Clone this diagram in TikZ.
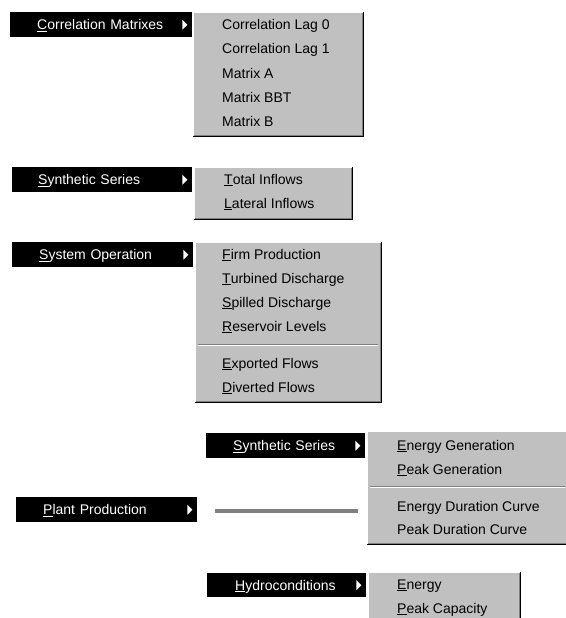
\documentclass[tikz,border=0pt]{standalone}
\usepackage{fontspec}
\setmainfont{Liberation Sans}
\usetikzlibrary{calc}
\definecolor{menugray}{HTML}{C0C0C0}
\definecolor{shadegray}{HTML}{808080}
\newcommand{\acc}[1]{\underline{#1}}
\newcommand{\subarrow}[1]{\fill[white] ($(#1.east)+(-10,-5)$) -- ++(0,10) -- ++(5,-5) -- cycle;}
\newcommand{\bevel}[1]{%
  \draw[white] ([xshift=0.5pt]#1.south west) -- ([xshift=0.5pt,yshift=-0.5pt]#1.north west) -- ([yshift=-0.5pt]#1.north east);
  \draw[shadegray] ([xshift=-2.5pt,yshift=-1pt]#1.north east) -- ([xshift=-2.5pt,yshift=2.5pt]#1.south east) -- ([xshift=1pt,yshift=2.5pt]#1.south west);
  \draw[black,line width=1.5pt] ([xshift=-0.75pt]#1.north east) -- ([xshift=-0.75pt,yshift=0.75pt]#1.south east) -- ([yshift=0.75pt]#1.south west);}

\begin{document}
\begin{tikzpicture}[x=1pt,y=-1pt,font=\fontsize{14pt}{16pt}\selectfont]
\tikzset{menubar/.style = {fill=black, text=white, anchor=north west, inner sep=0pt, minimum height=25pt, text width=#1, align=left, text height=12pt, text depth=2pt}}
\tikzset{menubox/.style = {fill=menugray, anchor=north west, inner sep=0pt}}
\tikzset{item/.style = {anchor=base west, inner sep=0pt}}
\tikzset{grayline/.style = {shadegray, line width=4pt}}
\useasboundingbox (0,0) rectangle (565,618);
% menu bars
\node[menubar=182pt] (corr) at (10,12) {\hspace*{27pt}\acc{C}orrelation Matrixes};
\node[menubar=180pt] (synth) at (12,167) {\hspace*{26pt}\acc{S}ynthetic Series};
\node[menubar=181pt] (sysop) at (12,242) {\hspace*{27pt}\acc{S}ystem Operation};
\node[menubar=159pt] (psynth) at (206,433) {\hspace*{27pt}\acc{S}ynthetic Series};
\node[menubar=181pt] (plant) at (16,497) {\hspace*{27pt}\acc{P}lant Production};
\node[menubar=159pt, minimum height=24pt] (hydro) at (207,573) {\hspace*{28pt}\acc{H}ydroconditions};
\subarrow{corr}
\subarrow{synth}
\subarrow{sysop}
\subarrow{psynth}
\subarrow{plant}
\subarrow{hydro}
% submenus
\node[menubox, minimum width=171pt, minimum height=125pt] (corrbox) at (193,12) {};
\node[menubox, minimum width=159pt, minimum height=53pt] (synthbox) at (194,167) {};
\node[menubox, minimum width=187pt, minimum height=161pt] (sysbox) at (195,242) {};
\node[menubox, minimum width=210pt, minimum height=114pt] (pbox) at (367,431) {};
\node[menubox, minimum width=153pt, minimum height=60pt] (hbox) at (368,572) {};
\bevel{corrbox}
\bevel{synthbox}
\bevel{sysbox}
\bevel{pbox}
\bevel{hbox}
% separators
\draw[shadegray] (198,344) -- (378,344);
\draw[white] (198,345.5) -- (378,345.5);
\draw[shadegray] (370,486) -- (565,486);
\draw[white] (370,487.5) -- (565,487.5);
% items
\node[item] (lag0) at (222,30) {Correlation Lag 0};
\node[item] (lag1) at (222,54) {Correlation Lag 1};
\node[item] (mata) at (222,78) {Matrix A};
\node[item] (matbbt) at (222,102) {Matrix BBT};
\node[item] (matb) at (222,126) {Matrix B};
\node[item] (total) at (224,184) {\acc{T}otal Inflows};
\node[item] (lateral) at (224,208) {\acc{L}ateral Inflows};
\node[item] (firm) at (222,259) {\acc{F}irm Production};
\node[item] (turb) at (222,283) {\acc{T}urbined Discharge};
\node[item] (spill) at (222,307) {\acc{S}pilled Discharge};
\node[item] (res) at (222,331) {\acc{R}eservoir Levels};
\node[item] (export) at (222,368) {\acc{E}xported Flows};
\node[item] (divert) at (222,392) {\acc{D}iverted Flows};
\node[item] (egen) at (397,450) {\acc{E}nergy Generation};
\node[item] (pgen) at (397,474) {\acc{P}eak Generation};
\node[item] (edur) at (397,511) {Energy Duration Curve};
\node[item] (pdur) at (397,534) {Peak Duration Curve};
\node[item] (energy) at (397,589) {\acc{E}nergy};
\node[item] (peak) at (397,613) {\acc{P}eak Capacity};
% gray link
\coordinate (g1) at (215,511);
\coordinate (g2) at (358,511);
\draw[grayline] (g1) -- (g2);
\end{tikzpicture}
\end{document}
